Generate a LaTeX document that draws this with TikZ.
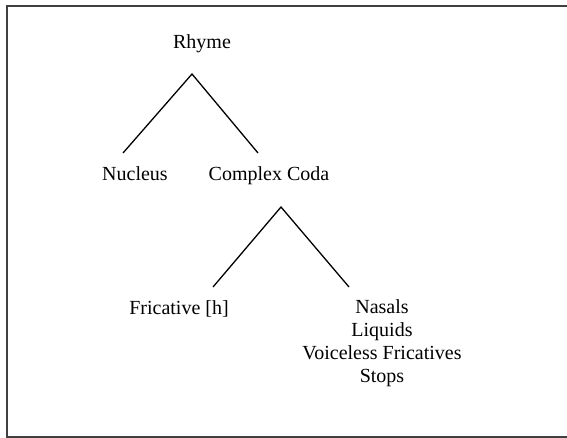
\documentclass[tikz,border=0pt]{standalone}
\usepackage{fontspec}
\setmainfont{Liberation Serif}
\begin{document}
\begin{tikzpicture}[x=1pt,y=-1pt,
  lbl/.style={font=\fontsize{20}{22.7}\selectfont, inner sep=0pt, anchor=base, align=center},
  branch/.style={line width=1.3pt, draw=black},
  frame/.style={line width=1.5pt, draw=black!75}]
\useasboundingbox (0,0) rectangle (567,438);
\draw[frame] (567,6) -- (7,6) -- (7,437) -- (567,437);
\node[lbl] (rhyme) at (202,49) {Rhyme};
\node[lbl] (nucleus) at (135,181) {Nucleus};
\node[lbl] (coda) at (269,181) {Complex Coda};
\node[lbl] (fric) at (179,314) {Fricative [h]};
\node[lbl] (sonor) at (382,382) {Nasals\\Liquids\\Voiceless Fricatives\\Stops};
\coordinate (r1) at (192,74);
\coordinate (n1) at (123,153);
\coordinate (c1) at (258,153);
\coordinate (r2) at (281,207);
\coordinate (f2) at (213,287);
\coordinate (s2) at (349,287);
\draw[branch] (n1) -- (r1) -- (c1);
\draw[branch] (f2) -- (r2) -- (s2);
\end{tikzpicture}
\end{document}
